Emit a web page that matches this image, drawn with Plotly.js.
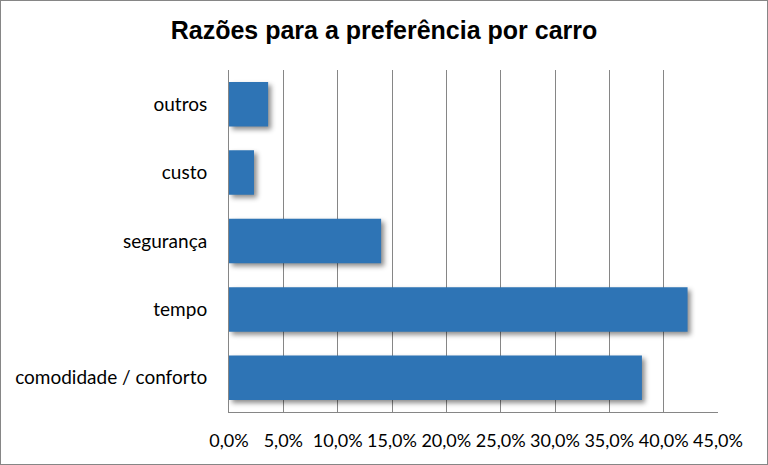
<!DOCTYPE html>
<html>
<head>
<meta charset="utf-8">
<script src="https://cdn.plot.ly/plotly-3.0.1.min.js"></script>
<style>
  html, body { margin: 0; padding: 0; background: #fff; }
  #wrap { position: relative; width: 768px; height: 465px; }
  #chart { width: 768px; height: 465px; }
  #frame { position: absolute; left: 0; top: 0; width: 768px; height: 465px;
           box-sizing: border-box; border: 1px solid #868686; pointer-events: none; }
  .barlayer path { filter: drop-shadow(3px 3px 2.5px rgba(0,0,0,0.45)); }
</style>
</head>
<body>
<div id="wrap">
  <div id="chart"></div>
  <div id="frame"></div>
</div>
<script>
const categories = ["comodidade / conforto", "tempo", "segurança", "custo", "outros"];
const values = [0.380, 0.422, 0.140, 0.023, 0.036];
const tickValues = [0, 0.05, 0.10, 0.15, 0.20, 0.25, 0.30, 0.35, 0.40, 0.45];

const trace = {
  type: "bar",
  orientation: "h",
  y: categories,
  x: values,
  marker: { color: "#2E74B5", line: { width: 0 } },
  hoverinfo: "none"
};

const layout = {
  width: 768,
  height: 465,
  paper_bgcolor: "#ffffff",
  plot_bgcolor: "#ffffff",
  separators: ",.",
  margin: { l: 229, r: 50, t: 70, b: 53, pad: 0 },
  title: {
    text: "Razões para a preferência por carro",
    font: { family: "Liberation Sans, Arial, sans-serif", size: 25, color: "#000000", weight: "bold" },
    x: 0.5, xanchor: "center",
    y: 0.935, yanchor: "middle"
  },
  bargap: 0.35,
  showlegend: false,
  xaxis: {
    range: [0, 0.45],
    tickvals: tickValues,
    tickformat: ".1%",
    showgrid: true,
    gridcolor: "#868686",
    gridwidth: 1,
    zeroline: false,
    showline: true,
    linecolor: "#868686",
    linewidth: 1,
    ticks: "",
    ticklabelstandoff: 12,
    tickfont: { family: "Lato, sans-serif", size: 18, color: "#000000" },
    fixedrange: true
  },
  yaxis: {
    type: "category",
    categoryorder: "array",
    categoryarray: categories,
    showgrid: false,
    zeroline: false,
    showline: true,
    linecolor: "#868686",
    linewidth: 1,
    ticks: "",
    ticklabelstandoff: 17,
    tickfont: { family: "Lato, sans-serif", size: 19, color: "#000000" },
    fixedrange: true
  }
};

Plotly.newPlot("chart", [trace], layout, { displayModeBar: false, staticPlot: true });
</script>
</body>
</html>
